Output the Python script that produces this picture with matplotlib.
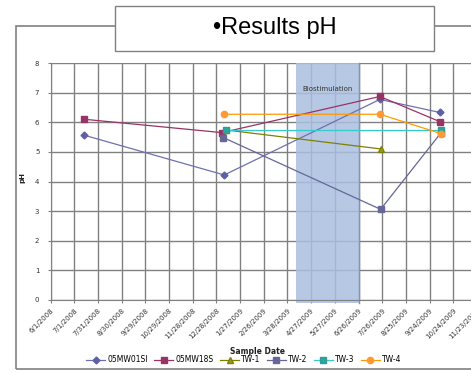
import matplotlib
matplotlib.use("Agg")
import matplotlib.pyplot as plt
import matplotlib.dates as mdates
from matplotlib.patches import Rectangle
from datetime import datetime, timedelta

# --- Données ---
series_names = ["05MW01SI", "05MW18S", "TW-1", "TW-2", "TW-3", "TW-4"]

d_mw01 = ["2008-07-14", "2009-01-07", "2009-07-23", "2009-10-07"]
ph_mw01 = [5.56, 4.22, 6.77, 6.33]

d_mw18 = ["2008-07-14", "2009-01-04", "2009-07-23", "2009-10-07"]
ph_mw18 = [6.10, 5.65, 6.87, 6.02]

d_tw1 = ["2009-01-09", "2009-07-24"]
ph_tw1 = [5.74, 5.10]

d_tw2 = ["2009-01-06", "2009-07-24", "2009-10-08"]
ph_tw2 = [5.48, 3.06, 5.63]

d_tw3 = ["2009-01-09", "2009-10-09"]
ph_tw3 = [5.75, 5.75]

d_tw4 = ["2009-01-07", "2009-07-23", "2009-10-08"]
ph_tw4 = [6.27, 6.27, 5.62]

biostim_start = "2009-04-08"
biostim_end = "2009-06-26"

x_start = datetime(2008, 6, 1)
x_end = datetime(2009, 11, 23)


def to_dates(lst):
    return [datetime.strptime(s, "%Y-%m-%d") for s in lst]


W, H = 471, 373
fig = plt.figure(figsize=(W / 100, H / 100), dpi=100)

# --- Cadre extérieur et boîte du titre ---
fig.patches.append(Rectangle((16 / W, 1 - 369 / H), 470 / W, (369 - 26) / H,
                             transform=fig.transFigure, fill=False,
                             edgecolor="#808080", linewidth=1.2, zorder=0))
fig.patches.append(Rectangle((115 / W, 1 - 51 / H), (434 - 115) / W, 45 / H,
                             transform=fig.transFigure, facecolor="white",
                             edgecolor="#808080", linewidth=1.0, zorder=1))
fig.text(275 / W, 1 - 28 / H, "\u2022Results pH", fontsize=17,
         family="Liberation Sans", ha="center", va="center", color="black")

# --- Axes ---
ax = fig.add_axes([50.5 / W, 73 / H, (477 - 50.5) / W, (300 - 63) / H])
ax.set_xlim(x_start, x_end)
ax.set_ylim(0, 8)

ticks = []
t = x_start
while t <= x_end:
    ticks.append(t)
    t += timedelta(days=30)
ax.set_xticks(ticks)
ax.set_xticklabels([f"{d.month}/{d.day}/{d.year}" for d in ticks],
                   rotation=45, ha="right", va="top", rotation_mode="anchor",
                   fontsize=5, color="#333333")
ax.set_yticks(range(0, 9))
ax.tick_params(axis="y", labelsize=5, length=2, color="#808080", labelcolor="#333333", pad=6)
ax.tick_params(axis="x", length=2, color="#808080", pad=3)

ax.grid(True, color="#808080", linewidth=1.0)
ax.set_axisbelow(True)
for s in ["top", "right"]:
    ax.spines[s].set_visible(False)
for s in ["left", "bottom"]:
    ax.spines[s].set_color("#808080")

# --- Zone biostimulation ---
b0 = mdates.date2num(datetime.strptime(biostim_start, "%Y-%m-%d"))
b1 = mdates.date2num(datetime.strptime(biostim_end, "%Y-%m-%d"))
ax.add_patch(Rectangle((b0, -0.1), b1 - b0, 8.1, facecolor="#a9bfe0",
                       edgecolor="none", alpha=0.85, clip_on=False, zorder=1.5))
ax.plot([b1, b1], [-0.1, 8], color="#7f95bb", linewidth=1, zorder=1.6, clip_on=False)
ax.text((b0 + b1) / 2, 7.12, "Biostimulation", fontsize=5, ha="center",
        va="center", color="#333333", zorder=3)

# --- Séries ---
ax.plot(to_dates(d_mw01), ph_mw01, color="#7070b0", marker="D", markersize=3.5,
        markerfacecolor="#5f5fa8", markeredgecolor="#5f5fa8", linewidth=0.9,
        label=series_names[0], zorder=4)
ax.plot(to_dates(d_mw18), ph_mw18, color="#993366", marker="s", markersize=5,
        markerfacecolor="#993366", markeredgecolor="#993366", linewidth=0.9,
        label=series_names[1], zorder=4)
ax.plot(to_dates(d_tw1), ph_tw1, color="#808000", marker="^", markersize=5,
        markerfacecolor="#999933", markeredgecolor="#808000", linewidth=0.9,
        label=series_names[2], zorder=4)
ax.plot(to_dates(d_tw2), ph_tw2, color="#666699", marker="s", markersize=5,
        markerfacecolor="#666699", markeredgecolor="#666699", linewidth=0.9,
        label=series_names[3], zorder=4)
ax.plot(to_dates(d_tw3), ph_tw3, color="#33cccc", marker="s", markersize=5,
        markerfacecolor="#2aa899", markeredgecolor="#339999", linewidth=0.9,
        label=series_names[4], zorder=4)
ax.plot(to_dates(d_tw4), ph_tw4, color="#ff9900", marker="o", markersize=4.5,
        markerfacecolor="#ff9933", markeredgecolor="#ff9933", linewidth=0.9,
        label=series_names[5], zorder=4)

# --- Titres des axes et légende ---
fig.text(22.5 / W, 1 - 178 / H, "pH", rotation=90, fontsize=5, fontweight="bold",
         ha="center", va="center", color="#222222")
fig.text(257 / W, 1 - 351 / H, "Sample Date", fontsize=5.5, fontweight="bold",
         ha="center", va="center", color="#222222")
fig.legend(loc="center", bbox_to_anchor=(244 / W, 1 - 360 / H), ncol=6,
           fontsize=5.5, frameon=False, handlelength=2.5, handletextpad=0.3,
           columnspacing=0.8, borderpad=0)

fig.savefig("out.png", dpi=100)
